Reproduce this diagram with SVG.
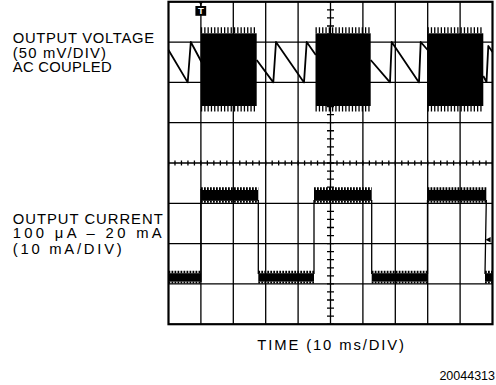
<svg xmlns="http://www.w3.org/2000/svg" width="496" height="385" viewBox="0 0 496 385">
<style>
.lbl{font-family:"Liberation Sans",Arial,sans-serif;font-size:14.8px;fill:#000}
.grid{stroke:#000;stroke-width:1.3;fill:none}
.frame{stroke:#000;stroke-width:2.2;fill:none}
.trace{stroke:#000;stroke-width:1.8;fill:none;stroke-linejoin:round}
.edge{stroke:#000;stroke-width:1.3;fill:none}
.solid{fill:#000}
.spk{stroke:#000;fill:none;stroke-dasharray:1.3 2}
.bump{stroke:#000;fill:none;stroke-dasharray:1.8 1.2}
</style>
<rect width="496" height="385" fill="#fff"/>
<g id="grid">
<path class="grid" d="M200.9,1.8V324.2M233.3,1.8V324.2M265.7,1.8V324.2M298.1,1.8V324.2M330.5,1.8V324.2M362.9,1.8V324.2M395.3,1.8V324.2M427.7,1.8V324.2M460.1,1.8V324.2M168.5,42.1H492.5M168.5,82.4H492.5M168.5,122.7H492.5M168.5,163H492.5M168.5,203.3H492.5M168.5,243.6H492.5M168.5,283.9H492.5"/>
<line x1="168.5" y1="163" x2="492.5" y2="163" stroke="#000" stroke-width="5" stroke-dasharray="1.3 5.18" stroke-dashoffset="0.65"/>
<line x1="330.5" y1="1.8" x2="330.5" y2="324.2" stroke="#000" stroke-width="7" stroke-dasharray="1.3 6.76" stroke-dashoffset="0.65"/>
<rect class="frame" x="168.5" y="1.8" width="324" height="322.4"/>
</g>
<g id="trigger-marker">
<polygon points="197.8,1 203.8,1 200.8,5" fill="#000"/>
<line x1="200.8" y1="4" x2="200.8" y2="7" stroke="#000" stroke-width="1.3"/>
<rect x="195.4" y="6" width="10.8" height="9.8" fill="#000"/>
<text x="200.8" y="14.3" text-anchor="middle" font-family="Liberation Sans,Arial,sans-serif" font-size="9.5" font-weight="bold" fill="#fff">T</text>
</g>
<g id="ground-marker">
<polygon points="485.5,239.8 490.6,237 490.6,242.6" fill="#000"/>
</g>
<g id="voltage-trace">
<path class="trace" d="M168.5,50 L187.7,82.4 L190.8,42 L201.5,62"/>
<path class="trace" d="M256.7,60 L273.3,82.4 L276,42 L304,82.4 L306.7,42 L315.8,55"/>
<path class="trace" d="M370.7,60 L390,82.4 L391.7,42 L419,82.4 L420.7,42 L427.7,50"/>
<path class="trace" d="M483.3,76 L486.5,82 L488.3,46 L492.5,52"/>
<rect class="solid" x="200.9" y="33.3" width="55.8" height="72.7"/>
<rect class="solid" x="315.5" y="33.3" width="55.2" height="72.7"/>
<rect class="solid" x="427.5" y="33.3" width="55.8" height="72.7"/>
<path class="spk" stroke-width="6" d="M200.9,30.3H256.7M315.5,30.3H370.7M427.5,30.3H483.3"/>
<path class="spk" stroke-width="5.5" d="M200.9,108.8H256.7M315.5,108.8H370.7M427.5,108.8H483.3"/>
</g>
<g id="current-trace">
<path class="edge" d="M201,189V282M258.3,200V274M314,200V274M371.7,200V274M427.5,200V274M486.3,200L485,274"/>
<rect class="solid" x="201" y="190" width="57.3" height="10.8"/>
<rect class="solid" x="314" y="190" width="57.7" height="10.8"/>
<rect class="solid" x="427.5" y="190" width="58.8" height="10.8"/>
<path class="bump" stroke-width="2.8" d="M201,188.6H258.3M314,188.6H371.7M427.5,188.6H486.3"/>
<path class="bump" stroke-width="2" stroke-dasharray="2.2 1.2" d="M201,201.8H258.3M314,201.8H371.7M427.5,201.8H486.3"/>
<rect class="solid" x="168.5" y="273.2" width="32.5" height="8.4"/>
<rect class="solid" x="258.3" y="273.2" width="55.7" height="8.4"/>
<rect class="solid" x="371.7" y="273.2" width="55.8" height="8.4"/>
<rect class="solid" x="485" y="273.2" width="7.5" height="8.4"/>
<path class="bump" stroke-width="2.4" d="M168.5,272H201M258.3,272H314M371.7,272H427.5M485,272H492.5"/>
<path class="bump" stroke-width="2" stroke-dasharray="2.2 1.2" d="M168.5,282.6H201M258.3,282.6H314M371.7,282.6H427.5M485,282.6H492.5"/>
</g>
<g id="labels">
<text class="lbl" x="12.7" y="43.3" textLength="141.3" lengthAdjust="spacing">OUTPUT VOLTAGE</text>
<text class="lbl" x="12.7" y="57.7" textLength="93.3" lengthAdjust="spacing">(50 mV/DIV)</text>
<text class="lbl" x="12.7" y="72.3" textLength="99" lengthAdjust="spacing">AC COUPLED</text>
<text class="lbl" x="12.7" y="223.6" textLength="150" lengthAdjust="spacing">OUTPUT CURRENT</text>
<text class="lbl" x="12.7" y="238.4" textLength="149" lengthAdjust="spacing">100 μA – 20 mA</text>
<text class="lbl" x="12.7" y="254" textLength="109" lengthAdjust="spacing">(10 mA/DIV)</text>
<text class="lbl" x="257.3" y="350" textLength="146.7" lengthAdjust="spacing">TIME (10 ms/DIV)</text>
<text x="495" y="380" text-anchor="end" font-family="Liberation Sans,Arial,sans-serif" font-size="12.5" fill="#000">20044313</text>
</g>
</svg>
